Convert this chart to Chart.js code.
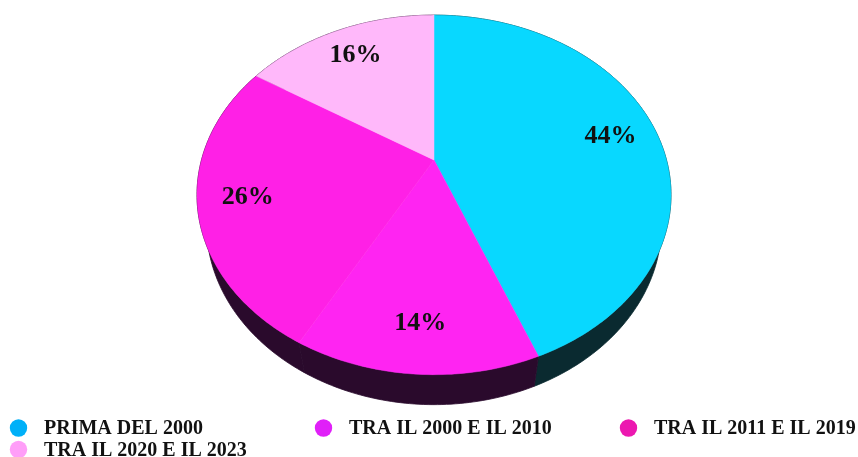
<!DOCTYPE html>
<html>
<head>
<meta charset="utf-8">
<script src="https://cdn.jsdelivr.net/npm/chart.js@4"></script>
<style>
html, body { margin: 0; padding: 0; background: #fff; }
canvas { display: block; }
</style>
</head>
<body>
<canvas id="pieChart" width="858" height="457"></canvas>
<script>
const categories = ["PRIMA DEL 2000", "TRA IL 2000 E IL 2010", "TRA IL 2011 E IL 2019", "TRA IL 2020 E IL 2023"];
const values = [44, 14, 26, 16];
const sliceColors = ["#08d8ff", "#ff24f2", "#ff20e6", "#ffb8fa"];
const sideColors = ["#0a2a30", "#2a0a2c", "#2a0a2c", "#2a0a2c"];
const legendColors = ["#00b0f8", "#e020f8", "#ec18b0", "#ff9ef8"];

// tilted disc: the circle is projected so the centre sits above the middle of the ellipse
const CX = 434, CY = 160, RX = 232.5, RY = 173, TILT = 0.194;
const DEPTH = 30, SHRINK = 0.96;

function project(angle, r, drop, scale) {
    const u = Math.cos(angle) * r;
    const v = Math.sin(angle) * r;
    const w = 1 - TILT * v;
    return { x: CX + scale * RX * u / w, y: CY + drop + RY * v / w };
}

function arcPoints(arc, drop, scale) {
    const pts = [];
    const steps = Math.ceil((arc.endAngle - arc.startAngle) * 60);
    for (let i = 0; i <= steps; i++) {
        pts.push(project(arc.startAngle + (arc.endAngle - arc.startAngle) * i / steps, 1, drop, scale));
    }
    return pts;
}

function fillPath(ctx, pts, color, seam) {
    ctx.beginPath();
    pts.forEach((p, i) => i ? ctx.lineTo(p.x, p.y) : ctx.moveTo(p.x, p.y));
    ctx.closePath();
    ctx.fillStyle = color;
    ctx.fill();
    // close the hairline the antialiasing leaves between neighbours
    if (seam) {
        ctx.strokeStyle = color;
        ctx.lineWidth = seam;
        ctx.stroke();
    }
}

const tiltedPie = {
    id: "tiltedPie",
    beforeDatasetsDraw(chart) {
        const ctx = chart.ctx;
        const arcs = chart.getDatasetMeta(0).data;
        ctx.save();
        arcs.forEach((arc, i) => {
            const top = arcPoints(arc, 0, 1);
            const low = arcPoints(arc, DEPTH, SHRINK);
            fillPath(ctx, top.concat(low.reverse()), sideColors[i], 0.8);
        });
        arcs.forEach((arc, i) => {
            const pts = arcPoints(arc, 0, 1);
            pts.push({ x: CX, y: CY });
            fillPath(ctx, pts, sliceColors[i], 0.5);
        });
        ctx.fillStyle = "#111";
        ctx.font = "bold 26px 'Liberation Serif'";
        ctx.textAlign = "center";
        ctx.textBaseline = "middle";
        arcs.forEach((arc, i) => {
            const p = project((arc.startAngle + arc.endAngle) / 2, 0.795, 1.5, 1);
            ctx.fillText(values[i] + "%", p.x, p.y);
        });
        ctx.restore();
        return false;
    },
    afterDraw(chart) {
        const ctx = chart.ctx;
        ctx.save();
        ctx.font = "bold 20px 'Liberation Serif'";
        ctx.textAlign = "left";
        ctx.textBaseline = "middle";
        categories.forEach((name, i) => {
            const x = 18.5 + 305 * (i % 3);
            const y = 428 + 21.5 * Math.floor(i / 3);
            ctx.beginPath();
            ctx.arc(x, y, 8.7, 0, Math.PI * 2);
            ctx.fillStyle = legendColors[i];
            ctx.fill();
            ctx.fillStyle = "#111";
            ctx.fillText(name, x + 25.5, y + 1);
        });
        ctx.restore();
    }
};

new Chart(document.getElementById("pieChart"), {
    type: "pie",
    data: {
        labels: categories,
        datasets: [{ data: values, backgroundColor: sliceColors, borderWidth: 0 }]
    },
    options: {
        responsive: false,
        animation: false,
        plugins: { legend: { display: false }, tooltip: { enabled: false } }
    },
    plugins: [tiltedPie]
});
</script>
</body>
</html>
